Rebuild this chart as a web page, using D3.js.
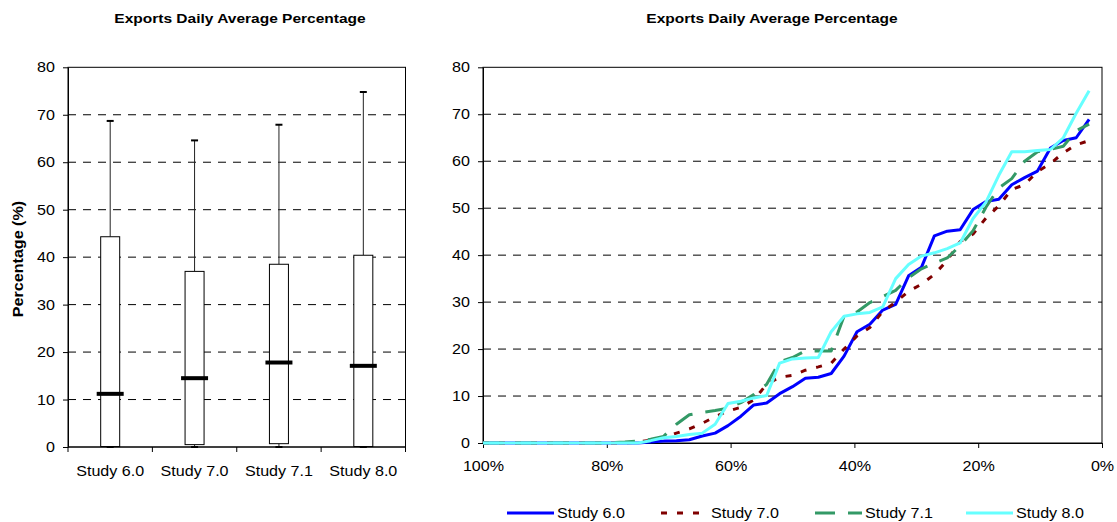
<!DOCTYPE html>
<html>
<head>
<meta charset="utf-8">
<script src="https://cdn.jsdelivr.net/npm/d3@7/dist/d3.min.js"></script>
<style>
  body { margin: 0; background: #fff; }
  text { font-family: "Liberation Sans", Arial, sans-serif; fill: #000; }
</style>
</head>
<body>
<svg id="chart" width="1117" height="522"></svg>
<script>
// ---- data ----
const studies = ["Study 6.0", "Study 7.0", "Study 7.1", "Study 8.0"];

// box plot summary per study (percent)
const boxMin    = [0, 0, 0, 0];
const boxQ1     = [0.1, 0.5, 0.7, 0.1];
const boxMedian = [11.2, 14.5, 17.8, 17.1];
const boxQ3     = [44.3, 37.0, 38.5, 40.4];
const boxMax    = [68.7, 64.6, 67.9, 74.8];

const yTicks = [0, 10, 20, 30, 40, 50, 60, 70, 80];
const xTicksPct = [100, 80, 60, 40, 20, 0];

// exceedance position of each ranked day (percent of days)
const exceedance = [100, 97.92, 95.83, 93.75, 91.67, 89.58, 87.5, 85.42, 83.33, 81.25,
  79.17, 77.08, 75, 72.92, 70.83, 68.75, 66.67, 64.58, 62.5, 60.42,
  58.33, 56.25, 54.17, 52.08, 50, 47.92, 45.83, 43.75, 41.67, 39.58,
  37.5, 35.42, 33.33, 31.25, 29.17, 27.08, 25, 22.92, 20.83, 18.75,
  16.67, 14.58, 12.5, 10.42, 8.33, 6.25, 4.17, 2.08];

const study60 = [0, 0, 0, 0, 0, 0, 0, 0, 0, 0, 0, 0, 0,
  0.2, 0.4, 0.5, 0.7, 1.5, 2.1, 3.7, 5.7, 8.1, 8.5,
  10.5, 12.0, 13.8, 14.0, 14.8, 18.5, 23.7, 25.3, 28.3, 29.5,
  35.6, 37.4, 44.1, 45.1, 45.4, 49.7, 51.4, 51.9, 55.0, 56.5,
  57.9, 62.8, 64.4, 65.0, 68.9];

const study70 = [0, 0, 0, 0, 0, 0, 0, 0, 0, 0, 0, 0,
  0.2, 0.6, 1.2, 2.1, 3.0, 4.2, 5.6, 6.8, 7.6, 9.2,
  12.5, 14.0, 14.4, 15.5, 16.2, 17.0, 20.0, 22.8, 24.6, 28.0,
  30.0, 32.3, 33.8, 35.9, 38.9, 42.9, 44.5, 47.9, 50.5, 54.0,
  55.0, 57.8, 59.5, 61.8, 63.5, 64.4];

const study71 = [0, 0, 0, 0, 0, 0, 0, 0, 0, 0,
  0.1, 0.2, 0.4, 0.8, 1.4, 4.0, 6.0, 6.5, 6.9, 7.4,
  8.6, 10.3, 12.5, 17.3, 18.2, 19.6, 19.6, 19.6, 27.0, 27.9,
  29.9, 31.2, 32.5, 35.2, 37.1, 38.3, 39.4, 42.0, 45.2, 50.2,
  54.3, 56.3, 60.0, 62.0, 62.5, 63.2, 66.5, 67.9];

const study80 = [0, 0, 0, 0, 0, 0, 0, 0, 0, 0, 0, 0, 0,
  0.5, 1.1, 1.4, 1.8, 2.1, 4.0, 8.4, 8.9, 9.6, 10.1,
  17.0, 17.9, 18.1, 18.2, 23.7, 27.0, 27.5, 27.8, 29.0, 35.0,
  38.0, 39.8, 40.5, 41.4, 42.6, 47.8, 51.3, 57.0, 62.0, 62.0,
  62.3, 62.5, 65.0, 70.2, 75.0];

const seriesNames  = ["Study 6.0", "Study 7.0", "Study 7.1", "Study 8.0"];
const seriesValues = [study60, study70, study71, study80];
const seriesColors = ["#0000FF", "#800000", "#339966", "#66FFFF"];
const seriesDashes = [null, "6,10", "20,13", null];

// ---- drawing ----
const svg = d3.select("#chart");
const SX = 1.15;          // horizontal glyph stretch of all text
const FONT = 14;

function stretchedText(g, x, y, str, anchor, opts = {}) {
  const t = g.append("text")
    .attr("transform", `translate(${x},${y}) scale(${SX},1)` + (opts.rotate ? "" : ""))
    .attr("text-anchor", anchor)
    .attr("dy", "0.35em")
    .style("font-size", (opts.size || FONT) + "px")
    .style("font-weight", opts.bold ? "bold" : "normal")
    .text(str);
  return t;
}

function gridAndFrame(g, x0, x1, y) {
  g.append("g").selectAll("line")
    .data(yTicks.filter(v => v > 0 && v < 80))
    .join("line")
    .attr("x1", x0).attr("x2", x1)
    .attr("y1", d => y(d)).attr("y2", d => y(d))
    .attr("stroke", "#000").attr("stroke-width", 1)
    .attr("stroke-dasharray", "8,7");
  g.append("rect")
    .attr("x", x0).attr("y", y(80))
    .attr("width", x1 - x0).attr("height", y(0) - y(80))
    .attr("fill", "none").attr("stroke", "#000").attr("stroke-width", 1);
}

function styleYAxis(sel) {
  sel.select(".domain").attr("stroke", "#000");
  sel.selectAll(".tick line").attr("stroke", "#000");
  sel.selectAll(".tick text")
    .attr("transform", `scale(${SX},1)`)
    .style("font-size", FONT + "px")
    .style("font-family", '"Liberation Sans", Arial, sans-serif')
    .attr("fill", "#000");
}

// ===== left: box plot =====
const L = svg.append("g");
const yL = d3.scaleLinear().domain([0, 80]).range([447, 67.3]);
const xL = d3.scaleBand().domain(studies).range([68, 405.5]);

gridAndFrame(L, 68, 405.5, yL);

L.append("g")
  .attr("transform", "translate(68,0)")
  .call(d3.axisLeft(yL).tickValues(yTicks).tickSize(5).tickPadding(6.3).tickSizeOuter(0))
  .call(styleYAxis);

// category axis: line, boundary ticks, labels
const xAxisL = L.append("g").attr("transform", `translate(0,${yL(0)})`);
xAxisL.append("line").attr("x1", 68).attr("x2", 405.5).attr("stroke", "#000");
xAxisL.selectAll("line.bt")
  .data(studies.map(s => xL(s)).concat([xL.range()[1]]))
  .join("line").attr("class", "bt")
  .attr("x1", d => d).attr("x2", d => d).attr("y1", 0).attr("y2", 5)
  .attr("stroke", "#000");
studies.forEach(s => stretchedText(xAxisL, xL(s) + xL.bandwidth() / 2, 23.7, s, "middle"));

// boxes
const boxG = L.append("g");
studies.forEach((s, i) => {
  const cx = xL(s) + xL.bandwidth() / 2;
  boxG.append("line")
    .attr("x1", cx).attr("x2", cx)
    .attr("y1", yL(boxQ3[i])).attr("y2", yL(boxMax[i]))
    .attr("stroke", "#222").attr("stroke-width", 1);
  boxG.append("line")
    .attr("x1", cx).attr("x2", cx)
    .attr("y1", yL(boxQ1[i])).attr("y2", yL(boxMin[i]))
    .attr("stroke", "#222").attr("stroke-width", 1);
  boxG.append("rect")
    .attr("x", cx - 9.5).attr("width", 19)
    .attr("y", yL(boxQ3[i])).attr("height", yL(boxQ1[i]) - yL(boxQ3[i]))
    .attr("fill", "#fff").attr("stroke", "#000").attr("stroke-width", 1);
  [boxMax[i], boxMin[i]].forEach(v => {
    boxG.append("line")
      .attr("x1", cx - 3.5).attr("x2", cx + 3.5)
      .attr("y1", yL(v)).attr("y2", yL(v))
      .attr("stroke", "#000").attr("stroke-width", 2);
  });
  boxG.append("line")
    .attr("x1", cx - 13.5).attr("x2", cx + 13.5)
    .attr("y1", yL(boxMedian[i])).attr("y2", yL(boxMedian[i]))
    .attr("stroke", "#000").attr("stroke-width", 4);
});

// axis title (rotated)
L.append("text")
  .attr("transform", `translate(18.5,259) rotate(-90) scale(${SX},1)`)
  .attr("text-anchor", "middle").attr("dy", "0.35em")
  .style("font-size", "14px").style("font-weight", "bold")
  .text("Percentage (%)");

stretchedText(L, 240, 18, "Exports Daily Average Percentage", "middle", { bold: true, size: 13.5 });

// ===== right: exceedance curves =====
const R = svg.append("g");
const xR = d3.scaleLinear().domain([100, 0]).range([483, 1102]);
const yR = d3.scaleLinear().domain([0, 80]).range([443, 67.3]);

gridAndFrame(R, 483, 1102, yR);

R.append("g")
  .attr("transform", "translate(483,0)")
  .call(d3.axisLeft(yR).tickValues(yTicks).tickSize(5).tickPadding(6.3).tickSizeOuter(0))
  .call(styleYAxis);

const xAxisR = R.append("g")
  .attr("transform", `translate(0,${yR(0)})`)
  .call(d3.axisBottom(xR).tickValues(xTicksPct).tickFormat(d => d + "%").tickSize(5).tickSizeOuter(0));
xAxisR.select(".domain").attr("stroke", "#000");
xAxisR.selectAll(".tick line").attr("stroke", "#000");
xAxisR.selectAll(".tick text")
  .attr("y", 0).attr("dy", "0.35em")
  .attr("transform", `translate(0,23) scale(${SX},1)`)
  .style("font-size", FONT + "px")
  .style("font-family", '"Liberation Sans", Arial, sans-serif')
  .attr("fill", "#000");

const line = d3.line()
  .x((d, i) => xR(exceedance[i]))
  .y(d => yR(d));

const plotG = R.append("g");
seriesValues.forEach((vals, k) => {
  plotG.append("path")
    .datum(vals)
    .attr("d", line)
    .attr("fill", "none")
    .attr("stroke", seriesColors[k])
    .attr("stroke-width", 3)
    .attr("stroke-linejoin", "round")
    .attr("stroke-dasharray", seriesDashes[k]);
});

stretchedText(R, 772, 18, "Exports Daily Average Percentage", "middle", { bold: true, size: 13.5 });

// legend
const legendX = [507, 661, 815, 966];
const legendY = 513;
const lg = svg.append("g");
seriesNames.forEach((name, k) => {
  lg.append("line")
    .attr("x1", legendX[k]).attr("x2", legendX[k] + 47)
    .attr("y1", legendY).attr("y2", legendY)
    .attr("stroke", seriesColors[k]).attr("stroke-width", 3)
    .attr("stroke-dasharray", seriesDashes[k]);
  stretchedText(lg, legendX[k] + 50, legendY, name, "start");
});
</script>
</body>
</html>
